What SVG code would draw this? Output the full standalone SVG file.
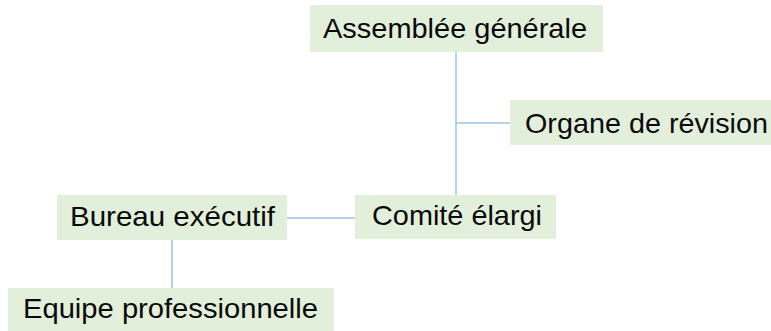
<svg xmlns="http://www.w3.org/2000/svg" width="771" height="331" viewBox="0 0 771 331">
<style>
.box{fill:#E2EFDA;}
.lbl{font-family:"Liberation Sans",Arial,sans-serif;font-size:28.5px;fill:#0a0a0a;}
.conn{stroke:#9DC3E6;stroke-width:1.5;fill:none;}
</style>
<rect width="771" height="331" fill="#fff"/>
<g id="connectors">
<line class="conn" x1="456" y1="52" x2="456" y2="195"/>
<line class="conn" x1="456" y1="123" x2="510" y2="123"/>
<line class="conn" x1="287" y1="218" x2="355" y2="218"/>
<line class="conn" x1="172" y1="240" x2="172" y2="288"/>
</g>
<g id="assemblee">
<rect class="box" x="310" y="5" width="293" height="47"/>
<text class="lbl" x="323" y="38" textLength="264" lengthAdjust="spacingAndGlyphs">Assemblée générale</text>
</g>
<g id="organe">
<rect class="box" x="510" y="100" width="261" height="45"/>
<text class="lbl" x="525" y="133" textLength="243" lengthAdjust="spacingAndGlyphs">Organe de révision</text>
</g>
<g id="comite">
<rect class="box" x="355" y="195" width="201" height="44"/>
<text class="lbl" x="372" y="225" textLength="170" lengthAdjust="spacingAndGlyphs">Comité élargi</text>
</g>
<g id="bureau">
<rect class="box" x="57" y="195" width="230" height="45"/>
<text class="lbl" x="70" y="226" textLength="205" lengthAdjust="spacingAndGlyphs">Bureau exécutif</text>
</g>
<g id="equipe">
<rect class="box" x="8" y="288" width="326" height="43"/>
<text class="lbl" x="23" y="318" textLength="295" lengthAdjust="spacingAndGlyphs">Equipe professionnelle</text>
</g>
</svg>
